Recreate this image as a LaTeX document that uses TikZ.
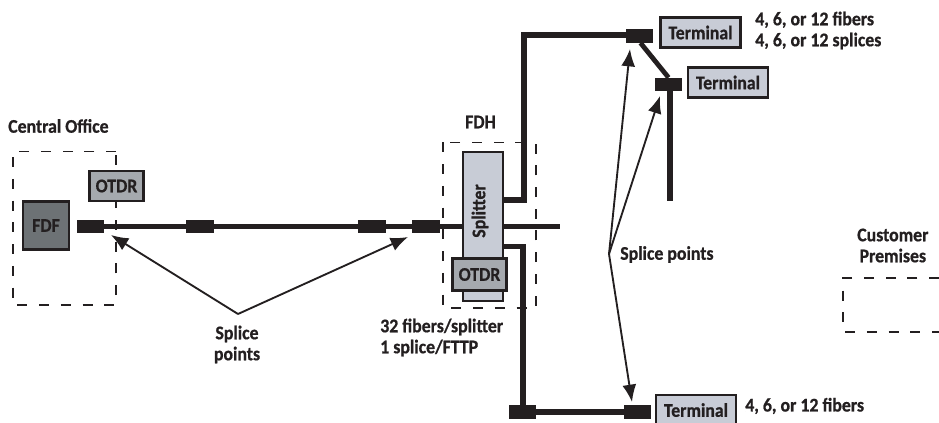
\documentclass[tikz,border=0pt]{standalone}
\usepackage{fontspec}
\setmainfont[BoldFeatures={FakeStretch=0.92,FakeBold=0.8}]{Carlito}
\usetikzlibrary{arrows.meta}
\definecolor{ink}{HTML}{231F20}
\definecolor{lightbox}{HTML}{C8CCD6}
\definecolor{midbox}{HTML}{A5A9AE}
\definecolor{darkbox}{HTML}{6D7275}
\tikzset{
  x=0.75pt,y=-0.75pt,
  lbl/.style={font=\bfseries\fontsize{14.5}{15.75}\selectfont,text=ink,inner sep=0pt,align=left},
  lblc/.style={lbl,align=center},
  spl/.style={fill=ink,draw=none,inner sep=0pt,minimum width=20.5pt,minimum height=10pt},
  boxed/.style={draw=ink,line width=1.6pt,inner sep=0pt,lbl,align=center},
  fiber/.style={draw=ink,line width=4pt},
  region/.style={draw=ink,line width=1.4pt,dash pattern=on 7.5pt off 8.8pt},
  pointer/.style={draw=ink,line width=1.4pt,-{Latex[length=13pt,width=10.5pt]}},
}
\begin{document}
\begin{tikzpicture}
\useasboundingbox (0,0) rectangle (939,423);
% dashed regions
\draw[region] (116,151.5) -- (13,151.5) -- (13,305) -- (116,305) -- cycle;
\draw[region] (443,142.5) rectangle (536,308);
\draw[region] (939,278) -- (843,278) -- (843,332) -- (939,332);
% coordinates
\coordinate (upcorner) at (524,35);
\coordinate (upstart) at (503,200);
\coordinate (lowstart) at (503,246.5);
\coordinate (lowcorner) at (523,246.5);
\coordinate (mainend) at (560,226.7);
\coordinate (tapend) at (670,201);
\coordinate (apexa) at (238,314);
\coordinate (apexb) at (609,254);
% splices
\node[spl] (s1) at (90.5,226.7) {};
\node[spl] (s2) at (200,226.7) {};
\node[spl] (s3) at (372,226.7) {};
\node[spl] (s4) at (426,226.7) {};
\node[spl] (s5) at (639.5,36) {};
\node[spl] (s6) at (668.5,84.5) {};
\node[spl] (s7) at (522.5,412) {};
\node[spl] (s8) at (637.5,412) {};
% splitter
\node[draw=ink,line width=1.6pt,fill=lightbox,minimum width=30pt,minimum height=111.5pt,inner sep=0pt] (splitterbox) at (483,226.5) {};
\node[lbl,rotate=90] (splitterlbl) at (480,211) {Splitter};
% fibers
\draw[fiber] (s1) -- (s2);
\draw[fiber] (s2) -- (s3);
\draw[fiber] (s3) -- (s4);
\draw[fiber] (s4) -- (splitterbox.west |- s4);
\draw[fiber] (splitterbox.east |- mainend) -- (mainend);
\draw[fiber] (upstart) -| (upcorner) -- (s5.west |- upcorner);
\draw[fiber] (lowstart) -- (lowcorner) -- (lowcorner |- s7.north);
\draw[fiber] (s7) -- (s8);
\draw[fiber,line width=3.6pt] (s5.south) ++(1,0) -- (s6.north);
\draw[fiber] (tapend) -- (tapend |- s6.south);
% boxes
\node[boxed,fill=darkbox,minimum width=35pt,minimum height=36pt] (FDF) at (46,225.5) {FDF};
\node[boxed,fill=midbox,minimum width=40.5pt,minimum height=23pt] (otdra) at (116.5,186) {OTDR};
\node[boxed,fill=midbox,minimum width=40.5pt,minimum height=24pt] (otdrb) at (479.5,274.5) {OTDR};
\node[boxed,fill=lightbox,minimum width=60pt,minimum height=22.5pt] (terma) at (700.5,32.5) {Terminal};
\node[boxed,fill=lightbox,minimum width=60pt,minimum height=22.5pt] (termb) at (728,82.5) {Terminal};
\node[boxed,fill=lightbox,minimum width=60pt,minimum height=22.5pt,text depth=0pt] (termc) at (696,410) {Terminal};
% pointers
\draw[pointer] (apexa) -- (111,235);
\draw[pointer] (apexa) -- (408,237);
\draw[pointer] (apexb) -- (630,49);
\draw[pointer] (apexb) -- (660,96);
\draw[pointer] (apexb) -- (632,402);
% labels
\node[lbl,anchor=west] (co) at (8,126) {Central Office};
\node[lbl,anchor=center] (fdh) at (480.5,122) {FDH};
\node[lblc] (sp1) at (237,344.5) {Splice\\points};
\node[lbl,anchor=west] (sp2) at (620,254.5) {Splice points};
\node[lbl,anchor=west] (fs) at (380,337.5) {32 fibers/splitter\\1 splice/FTTP};
\node[lbl,anchor=west] (t1) at (755,30.5) {4, 6, or 12 fibers\\4, 6, or 12 splices};
\node[lbl,anchor=west] (t3) at (745,406) {4, 6, or 12 fibers};
\node[lblc,anchor=west] (cp) at (857,245.5) {Customer\\Premises};
\end{tikzpicture}
\end{document}
